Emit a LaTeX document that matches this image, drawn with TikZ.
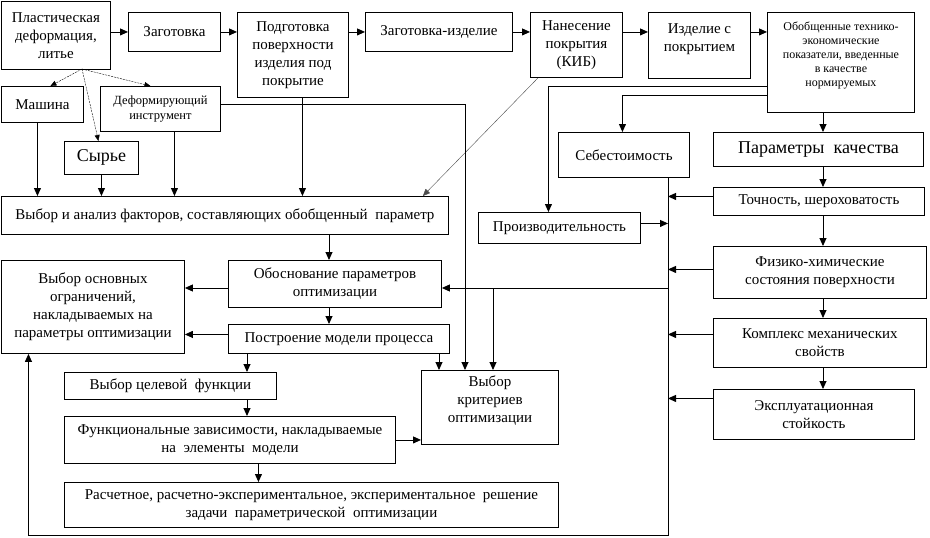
\documentclass[tikz,border=0pt]{standalone}
\usepackage{fontspec}
\setmainfont{Liberation Serif}
\usetikzlibrary{arrows.meta}

\tikzset{
  blk/.style={draw, line width=0.9pt, align=center, inner sep=1pt, font=\fontsize{15}{18}\selectfont},
  small/.style={font=\fontsize{12.5}{15}\selectfont},
  tiny/.style={font=\fontsize{12}{14}\selectfont},
  big/.style={font=\fontsize{18}{21}\selectfont},
  liftby/.style={text depth=#1},
  arr/.style={line width=0.9pt, -{Triangle[length=8pt,width=7pt]}},
  dsharr/.style={line width=0.4pt, dash pattern=on 2pt off 1pt, -{Triangle[length=6pt,width=5pt]}},
  thinarr/.style={line width=0.4pt, black!70, -{Triangle[length=7pt,width=6pt]}},
}

% box by corners: [opts]{x1}{y1}{x2}{y2}{name}
\newcommand{\blkat}[6][]{%
  \node[blk, anchor=north west, minimum width={(#4-#2)*1pt}, minimum height={(#5-#3)*1pt}, #1] (#6) at (#2,#3)}

\begin{document}
\begin{tikzpicture}[x=1pt, y=-1pt]
\useasboundingbox (0,0) rectangle (930,538);

\blkat{1}{1}{110}{69}{plast} {Пластическая\\деформация,\\литье};
\blkat{128}{12}{220}{51}{zag} {Заготовка};
\blkat{237}{12}{348}{97}{podg} {Подготовка\\поверхности\\изделия под\\покрытие};
\blkat{365}{12}{512}{51}{zagizd} {Заготовка-изделие};
\blkat{530}{12}{622}{77}{nanes} {Нанесение\\покрытия\\(КИБ)};
\blkat[liftby=16pt]{648}{12}{750}{78}{izdel} {Изделие с\\покрытием};
\blkat[tiny, liftby=17pt]{767}{12}{914}{112}{obob} {Обобщенные технико-\\экономические\\показатели, введенные\\в качестве\\нормируемых};

\blkat{1}{86}{83}{122}{mash} {Машина};
\blkat[small]{100}{86}{220}{131}{deform} {Деформирующий\\инструмент};
\blkat[big]{64}{141}{138}{174}{syr} {Сырье};
\blkat{1}{196}{448}{234}{vybor} {Выбор и анализ факторов, составляющих обобщенный\ \ параметр};

\blkat{558}{132}{689}{177}{sebest} {Себестоимость};
\blkat[big]{713}{132}{923}{166}{param} {Параметры\ \ качества};
\blkat{478}{212}{640}{243}{proizv} {Производительность};
\blkat{713}{187}{924}{215}{tochn} {Точность, шероховатость};
\blkat{713}{246}{926}{298}{fiz} {Физико-химические\\состояния поверхности};
\blkat{713}{318}{926}{367}{kompl} {Комплекс механических\\свойств};
\blkat{713}{389}{914}{439}{ekspl} {Эксплуатационная\\стойкость};

\blkat{1}{260}{184}{353}{ogran} {Выбор основных\\ограничений,\\накладываемых на\\параметры оптимизации};
\blkat{228}{260}{441}{307}{obosn} {Обоснование параметров\\оптимизации};
\blkat{228}{324}{449}{353}{postr} {Построение модели процесса};
\blkat{64}{372}{276}{399}{celev} {Выбор целевой\ \ функции};
\blkat{64}{416}{395}{463}{funk} {Функциональные зависимости, накладываемые\\на\ \ элементы\ \ модели};
\blkat[liftby=16pt]{421}{370}{558}{444}{krit} {Выбор\\критериев\\оптимизации};
\blkat{64}{482}{558}{527}{rasch} {Расчетное, расчетно-экспериментальное, экспериментальное\ \ решение\\задачи\ \ параметрической\ \ оптимизации};

\coordinate (pfoot) at (82,69);
\coordinate (c1) at (465,104);
\coordinate (c2) at (668,288);
\coordinate (c3) at (493,288);
\coordinate (bus) at (668,0);
\coordinate (bot) at (668,535);
\coordinate (rx) at (823,0);
\coordinate (mx) at (329,0);
\coordinate (lx) at (247,0);
\coordinate (kx) at (439,0);

% top row
\draw[arr] (plast.east |- zag.west) -- (zag.west);
\draw[arr] (zag.east) -- (zag.east -| podg.west);
\draw[arr] (podg.east |- zagizd.west) -- (zagizd.west);
\draw[arr] (zagizd.east) -- (zagizd.east -| nanes.west);
\draw[arr] (nanes.east |- zagizd.east) -- (zagizd.east -| izdel.west);
\draw[arr] (izdel.east |- zagizd.east) -- (zagizd.east -| obob.west);

\draw[dsharr] (pfoot) -- ([xshift=8pt]mash.north);
\draw[dsharr] (pfoot) -- ([xshift=-3pt]syr.north);
\draw[dsharr] (pfoot) -- ([xshift=-10pt]deform.north);

\draw[arr] ([xshift=-5pt]mash.south) -- ([xshift=-5pt]mash.south |- vybor.north);
\draw[arr] (syr.south) -- (syr.south |- vybor.north);
\draw[arr] ([xshift=14pt]deform.south) -- ([xshift=14pt]deform.south |- vybor.north);
\draw[arr] ([xshift=9.5pt]podg.south) -- ([xshift=9.5pt]podg.south |- vybor.north);
\draw[thinarr] ([xshift=8pt]nanes.south west) -- ([xshift=-26pt]vybor.north east);
\draw[arr] (deform.east |- c1) -| (krit.north -| c1);

% right side
\draw[arr] ([yshift=-24pt]obob.west) -| ([xshift=-11pt]proizv.north);
\draw[arr] ([yshift=-33pt]obob.west) -| ([xshift=-1.5pt]sebest.north);
\draw[arr] (obob.south -| rx) -- (param.north -| rx);
\draw[arr] (param.south -| rx) -- (tochn.north -| rx);
\draw[arr] (tochn.south -| rx) -- (fiz.north -| rx);
\draw[arr] (fiz.south -| rx) -- (kompl.north -| rx);
\draw[arr] (kompl.south -| rx) -- (ekspl.north -| rx);

\draw[arr] ([yshift=5pt]tochn.west) -- ([yshift=5pt]tochn.west -| bus);
\draw[arr] ([yshift=4.5pt]proizv.east) -- ([yshift=4.5pt]proizv.east -| bus);
\draw[arr] ([yshift=3pt]fiz.west) -- ([yshift=3pt]fiz.west -| bus);
\draw[arr] ([yshift=8.5pt]kompl.west) -- ([yshift=8.5pt]kompl.west -| bus);
\draw[arr] ([yshift=16pt]ekspl.west) -- ([yshift=16pt]ekspl.west -| bus);
\draw[arr] (sebest.south -| bus) -- (bot) -| ([xshift=-64.5pt]ogran.south);

\draw[arr] (c2) -- (c2 -| obosn.east);
\draw[arr] (c3) -- (c3 |- krit.north);

% middle
\draw[arr] (vybor.south -| mx) -- (obosn.north -| mx);
\draw[arr] (obosn.south -| mx) -- (postr.north -| mx);
\draw[arr] (obosn.west |- c2) -- (ogran.east |- c2);
\draw[arr] ([yshift=4.5pt]postr.west) -- ([yshift=4.5pt]postr.west -| ogran.east);
\draw[arr] (postr.south -| lx) -- (celev.north -| lx);
\draw[arr] (postr.south -| kx) -- (krit.north -| kx);
\draw[arr] (celev.south -| lx) -- (funk.north -| lx);
\draw[arr] (funk.east) -- (funk.east -| krit.west);
\draw[arr] ([xshift=28.5pt]funk.south) -- ([xshift=28.5pt]funk.south |- rasch.north);
\end{tikzpicture}
\end{document}
